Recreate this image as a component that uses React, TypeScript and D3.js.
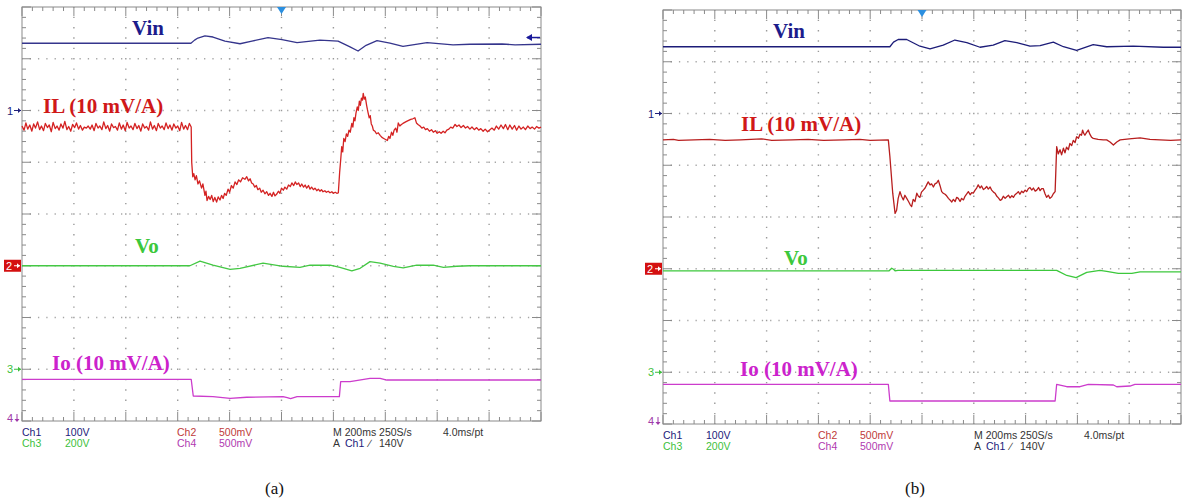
import React from 'react';
import * as d3 from 'd3';

type Pt = [number, number];

// time in ms (10 div x 200 ms), level in divisions (0 = bottom, 8 = top)
const vinA: Pt[] = [
  [0, 7.3], [651, 7.3], [665, 7.36], [678, 7.4], [705, 7.44], [736, 7.42], [782, 7.34], [840, 7.29], [886, 7.34],
  [948, 7.41], [1002, 7.37], [1060, 7.31], [1148, 7.36], [1218, 7.34], [1264, 7.23], [1295, 7.15],
  [1326, 7.26], [1368, 7.35], [1418, 7.3], [1468, 7.24], [1561, 7.31], [1661, 7.27], [1726, 7.28],
  [1850, 7.285], [1900, 7.27], [2000, 7.28],
];

const ilA: Pt[] = [
  [0, 5.7], [8, 5.62], [15, 5.76], [22, 5.64], [30, 5.72], [38, 5.6], [45, 5.74], [52, 5.66], [60, 5.78],
  [68, 5.63], [75, 5.7], [83, 5.61], [90, 5.75], [98, 5.67], [105, 5.72], [113, 5.59], [120, 5.77],
  [128, 5.65], [135, 5.7], [143, 5.62], [150, 5.74], [158, 5.66], [165, 5.79], [173, 5.63], [180, 5.69],
  [188, 5.6], [195, 5.73], [203, 5.67], [210, 5.76], [218, 5.64], [225, 5.71], [233, 5.62], [240, 5.68],
  [248, 5.66], [255, 5.7], [263, 5.64], [270, 5.72], [278, 5.61], [285, 5.75], [293, 5.66], [300, 5.7],
  [308, 5.63], [315, 5.78], [323, 5.65], [330, 5.71], [338, 5.6], [345, 5.74], [353, 5.67], [360, 5.69],
  [368, 5.62], [375, 5.76], [383, 5.64], [390, 5.72], [398, 5.61], [405, 5.77], [413, 5.66], [420, 5.7],
  [428, 5.63], [435, 5.75], [443, 5.65], [450, 5.71], [458, 5.6], [465, 5.74], [473, 5.66], [480, 5.69],
  [488, 5.62], [495, 5.78], [503, 5.64], [510, 5.71], [518, 5.61], [525, 5.75], [533, 5.66], [540, 5.7],
  [548, 5.63], [555, 5.76], [563, 5.65], [570, 5.72], [578, 5.62], [585, 5.74], [593, 5.66], [600, 5.7],
  [608, 5.61], [615, 5.77], [623, 5.64], [630, 5.71], [638, 5.63], [645, 5.75], [652, 5.68],
  [654, 5.0], [658, 4.72], [662, 4.78], [667, 4.66], [672, 4.74], [678, 4.58], [684, 4.64], [692, 4.5],
  [697, 4.58], [705, 4.36], [709, 4.44], [713, 4.26], [719, 4.34], [725, 4.28], [731, 4.36], [737, 4.24],
  [743, 4.32], [750, 4.23], [756, 4.33], [763, 4.27], [769, 4.36], [775, 4.3], [781, 4.4], [787, 4.36],
  [794, 4.48], [800, 4.42], [807, 4.55], [814, 4.5], [821, 4.62], [828, 4.57], [835, 4.66], [842, 4.62],
  [850, 4.7], [859, 4.67], [866, 4.72], [873, 4.64], [879, 4.68], [885, 4.6], [891, 4.58], [897, 4.52],
  [903, 4.55], [909, 4.47], [916, 4.5], [922, 4.42], [929, 4.46], [936, 4.39], [943, 4.43], [950, 4.36],
  [956, 4.4], [963, 4.34], [969, 4.42], [975, 4.35], [981, 4.38], [988, 4.44], [994, 4.4], [1000, 4.5],
  [1007, 4.46], [1013, 4.52], [1020, 4.48], [1027, 4.56], [1034, 4.53], [1040, 4.6], [1047, 4.55],
  [1053, 4.62], [1059, 4.57], [1066, 4.6], [1072, 4.53], [1078, 4.58], [1085, 4.52], [1091, 4.56],
  [1097, 4.5], [1104, 4.55], [1110, 4.48], [1116, 4.52], [1123, 4.47], [1129, 4.5], [1136, 4.45],
  [1142, 4.48], [1148, 4.44], [1154, 4.47], [1160, 4.43], [1167, 4.45], [1173, 4.42], [1180, 4.44],
  [1187, 4.41], [1194, 4.43], [1200, 4.4], [1207, 4.42], [1213, 4.4], [1219, 4.41],
  [1224, 4.8], [1228, 5.04], [1232, 5.3], [1236, 5.2], [1240, 5.46], [1245, 5.4], [1250, 5.55],
  [1255, 5.5], [1260, 5.62], [1265, 5.58], [1271, 5.75], [1275, 5.68], [1279, 5.86], [1283, 5.8],
  [1287, 5.95], [1292, 6.07], [1296, 6.0], [1300, 6.18], [1304, 6.1], [1308, 6.24], [1312, 6.2],
  [1315, 6.33], [1319, 6.22], [1323, 6.26], [1328, 6.1], [1331, 6.02], [1334, 5.95], [1338, 5.86],
  [1342, 5.9], [1346, 5.74], [1350, 5.7], [1354, 5.62], [1360, 5.6], [1366, 5.55], [1373, 5.57],
  [1380, 5.52], [1387, 5.48], [1394, 5.46], [1401, 5.44], [1408, 5.42], [1413, 5.5], [1418, 5.46],
  [1424, 5.58], [1429, 5.52], [1434, 5.62], [1440, 5.66], [1445, 5.58], [1450, 5.76], [1456, 5.7],
  [1462, 5.73], [1468, 5.75], [1475, 5.77], [1482, 5.79], [1490, 5.81], [1498, 5.83], [1506, 5.84],
  [1514, 5.86], [1520, 5.76], [1526, 5.73], [1534, 5.7], [1541, 5.66], [1548, 5.68], [1555, 5.63],
  [1562, 5.65], [1570, 5.6], [1578, 5.63], [1585, 5.58], [1593, 5.61], [1600, 5.56], [1608, 5.59],
  [1615, 5.56], [1623, 5.6], [1630, 5.57], [1637, 5.62], [1645, 5.64], [1652, 5.68], [1660, 5.66],
  [1669, 5.73], [1676, 5.69], [1684, 5.72], [1692, 5.67], [1701, 5.71], [1709, 5.66], [1717, 5.69],
  [1726, 5.64], [1734, 5.68], [1743, 5.63], [1752, 5.67], [1760, 5.62], [1768, 5.65], [1777, 5.6],
  [1785, 5.64], [1794, 5.59], [1803, 5.63], [1811, 5.66], [1820, 5.62], [1828, 5.7], [1837, 5.64],
  [1846, 5.72], [1855, 5.65], [1863, 5.73], [1872, 5.63], [1880, 5.72], [1889, 5.64], [1898, 5.71],
  [1906, 5.62], [1915, 5.7], [1923, 5.64], [1932, 5.68], [1940, 5.63], [1949, 5.7], [1958, 5.65],
  [1966, 5.68], [1975, 5.64], [1983, 5.69], [1992, 5.66], [2000, 5.68],
];

const voA: Pt[] = [
  [0, 3.0], [647, 3.0], [686, 3.09], [736, 3.01], [802, 2.93], [840, 2.95], [929, 3.05], [1006, 2.99],
  [1071, 2.97], [1110, 3.01], [1187, 3.01], [1225, 2.97], [1271, 2.9], [1303, 2.95], [1341, 3.08],
  [1380, 3.05], [1431, 2.99], [1469, 2.96], [1521, 3.01], [1585, 3.01], [1624, 2.97], [1675, 2.99],
  [1726, 3.0], [2000, 3.0],
];

const ioA: Pt[] = [
  [0, 0.806], [652, 0.806], [660, 0.483], [736, 0.47], [802, 0.439], [866, 0.459], [1006, 0.47],
  [1022, 0.45], [1035, 0.431], [1060, 0.47], [1223, 0.47], [1228, 0.759], [1264, 0.759], [1341, 0.825],
  [1380, 0.825], [1406, 0.792], [2000, 0.792],
];

const vinB: Pt[] = [
  [0, 7.29], [876, 7.29], [890, 7.38], [908, 7.43], [941, 7.43], [992, 7.3], [1031, 7.25], [1082, 7.32], [1127, 7.42],
  [1173, 7.37], [1224, 7.28], [1275, 7.32], [1320, 7.41], [1366, 7.37], [1417, 7.3], [1456, 7.31],
  [1507, 7.38], [1546, 7.29], [1597, 7.22], [1661, 7.33], [1713, 7.29], [1816, 7.3], [1932, 7.28],
  [2000, 7.28],
];

const ilB: Pt[] = [
  [0, 5.49], [40, 5.5], [60, 5.48], [120, 5.49], [180, 5.5], [240, 5.48], [300, 5.49], [380, 5.51],
  [420, 5.48], [500, 5.49], [560, 5.5], [620, 5.48], [700, 5.49], [760, 5.5], [800, 5.48], [870, 5.49],
  [876, 5.17], [887, 4.46], [896, 4.07], [902, 4.13], [908, 4.36], [915, 4.49], [921, 4.4], [928, 4.33],
  [934, 4.42], [941, 4.36], [948, 4.3], [954, 4.24], [960, 4.2], [966, 4.34], [973, 4.3], [980, 4.46],
  [986, 4.4], [992, 4.38], [998, 4.48], [1005, 4.52], [1012, 4.56], [1018, 4.62], [1024, 4.68],
  [1031, 4.62], [1037, 4.64], [1044, 4.58], [1050, 4.64], [1057, 4.66], [1063, 4.71], [1070, 4.6],
  [1076, 4.49], [1082, 4.46], [1089, 4.44], [1095, 4.41], [1102, 4.36], [1108, 4.33], [1115, 4.29],
  [1121, 4.34], [1128, 4.3], [1134, 4.38], [1140, 4.36], [1147, 4.3], [1153, 4.36], [1160, 4.33],
  [1166, 4.4], [1172, 4.44], [1179, 4.49], [1186, 4.43], [1192, 4.47], [1198, 4.46], [1205, 4.52],
  [1211, 4.56], [1217, 4.62], [1224, 4.56], [1230, 4.6], [1237, 4.53], [1243, 4.55], [1250, 4.59],
  [1256, 4.54], [1263, 4.58], [1269, 4.52], [1276, 4.48], [1282, 4.46], [1289, 4.4], [1295, 4.37],
  [1302, 4.32], [1308, 4.34], [1314, 4.4], [1321, 4.36], [1327, 4.39], [1334, 4.42], [1340, 4.37],
  [1347, 4.41], [1353, 4.38], [1359, 4.43], [1366, 4.46], [1372, 4.49], [1378, 4.44], [1385, 4.5],
  [1391, 4.47], [1398, 4.52], [1404, 4.49], [1411, 4.55], [1417, 4.57], [1424, 4.52], [1430, 4.56],
  [1437, 4.5], [1443, 4.52], [1450, 4.57], [1456, 4.51], [1462, 4.55], [1468, 4.55], [1475, 4.45],
  [1481, 4.38], [1488, 4.42], [1494, 4.36], [1501, 4.39], [1507, 4.45], [1514, 4.49], [1520, 5.36],
  [1526, 5.22], [1533, 5.3], [1539, 5.2], [1546, 5.33], [1552, 5.24], [1558, 5.35], [1565, 5.3],
  [1571, 5.42], [1578, 5.38], [1584, 5.48], [1591, 5.44], [1597, 5.55], [1604, 5.52], [1610, 5.6],
  [1616, 5.58], [1620, 5.68], [1624, 5.62], [1629, 5.58], [1635, 5.63], [1642, 5.68], [1648, 5.6],
  [1655, 5.54], [1661, 5.52], [1680, 5.5], [1700, 5.49], [1713, 5.49], [1726, 5.45], [1739, 5.39],
  [1752, 5.45], [1765, 5.49], [1800, 5.51], [1842, 5.53], [1880, 5.5], [1919, 5.49], [1960, 5.48],
  [2000, 5.49],
];

const voB: Pt[] = [
  [0, 2.96], [873, 2.96], [883, 3.01], [890, 2.99], [896, 2.96], [907, 2.97], [1069, 2.97], [1200, 2.97],
  [1520, 2.97], [1559, 2.87], [1595, 2.83], [1636, 2.93], [1687, 2.97], [1713, 2.95], [1758, 2.91],
  [1810, 2.91], [1842, 2.94], [2000, 2.94],
];

const ioB: Pt[] = [
  [0, 0.767], [870, 0.767], [876, 0.444], [1514, 0.444], [1520, 0.767], [1559, 0.72], [1610, 0.72],
  [1642, 0.767], [1739, 0.754], [1752, 0.72], [1803, 0.734], [1822, 0.767], [2000, 0.767],
];

const readoutRows = [
  [
    { text: 'Ch1', dx: 0, color: '#20207a' },
    { text: '100V', dx: 43, color: '#20207a' },
    { text: 'Ch2', dx: 155, color: '#c03a3a' },
    { text: '500mV', dx: 197, color: '#c03a3a' },
    { text: 'M 200ms 250S/s', dx: 311, color: '#333' },
    { text: '4.0ms/pt', dx: 421, color: '#333' },
  ],
  [
    { text: 'Ch3', dx: 0, color: '#3cbf3c' },
    { text: '200V', dx: 43, color: '#3cbf3c' },
    { text: 'Ch4', dx: 155, color: '#b03ab0' },
    { text: '500mV', dx: 197, color: '#b03ab0' },
    { text: 'A', dx: 311, color: '#333' },
    { text: 'Ch1', dx: 323, color: '#20207a' },
    { text: '\u2215', dx: 347, color: '#333' },
    { text: '140V', dx: 357, color: '#333' },
  ],
];

interface TraceDef { data: Pt[]; color: string; }
interface LabelDef { text: string; x: number; y: number; color: string; }

interface ScopeProps {
  x0: number; y0: number; w: number; h: number;
  traces: TraceDef[];
  labels: LabelDef[];
  levelArrow?: number;
  caption: string;
}

const Scope: React.FC<ScopeProps> = ({ x0, y0, w, h, traces, labels, levelArrow, caption }) => {
  const x = d3.scaleLinear().domain([0, 2000]).range([x0, x0 + w]);
  const y = d3.scaleLinear().domain([0, 8]).range([y0 + h, y0]);
  const line = d3.line<Pt>().x(d => x(d[0])).y(d => y(d[1]));
  const xt = d3.range(0, 51);
  const yt = d3.range(0, 41);
  const dx = w / 50;
  const dy = h / 40;

  return (
    <g>
      {/* dotted grid */}
      {d3.range(1, 10).map(i => (
        <line key={'v' + i} x1={x(i * 200)} x2={x(i * 200)} y1={y0} y2={y0 + h}
          stroke="#9a9a9a" strokeWidth={1.4} strokeDasharray={`1.4 ${dy - 1.4}`} strokeDashoffset={0.7} />
      ))}
      {d3.range(1, 8).map(j => (
        <line key={'h' + j} x1={x0} x2={x0 + w} y1={y(j)} y2={y(j)}
          stroke="#a6a6a6" strokeWidth={1.3} strokeDasharray={`1.3 ${dx * 0.8 - 1.3}`} strokeDashoffset={0.65} />
      ))}
      {/* frame */}
      <rect x={x0} y={y0} width={w} height={h} fill="none" stroke="#8a8a8a" strokeWidth={1} />
      {xt.map(i => {
        const len = i % 5 === 0 ? 9 : 4;
        const px = x0 + i * dx;
        return (
          <g key={'xt' + i}>
            <line x1={px} x2={px} y1={y0} y2={y0 + len} stroke="#8a8a8a" />
            <line x1={px} x2={px} y1={y0 + h} y2={y0 + h - len} stroke="#8a8a8a" />
          </g>
        );
      })}
      {yt.map(j => {
        const len = j % 5 === 0 ? 9 : 4;
        const py = y0 + j * dy;
        return (
          <g key={'yt' + j}>
            <line x1={x0} x2={x0 + len} y1={py} y2={py} stroke="#8a8a8a" />
            <line x1={x0 + w} x2={x0 + w - len} y1={py} y2={py} stroke="#8a8a8a" />
          </g>
        );
      })}

      {/* traces */}
      {traces.map((t, i) => (
        <path key={'tr' + i} d={line(t.data) || ''} fill="none" stroke={t.color} strokeWidth={1.3} strokeLinejoin="round" />
      ))}

      {/* trace labels */}
      {labels.map((l, i) => (
        <text key={'lb' + i} x={l.x} y={l.y} fill={l.color} fontFamily="'Liberation Serif', 'Times New Roman', serif"
          fontWeight="bold" fontSize={21}>{l.text}</text>
      ))}

      {/* trigger position */}
      <path d={`M${x(1000) - 4.5},${y0} L${x(1000) + 4.5},${y0} L${x(1000)},${y0 + 7} Z`} fill="#2b8fe0" />
      {levelArrow !== undefined && (
        <g>
          <line x1={x0 + w - 14} x2={x0 + w - 1} y1={y(levelArrow)} y2={y(levelArrow)} stroke="#1a1a9a" strokeWidth={1.5} />
          <path d={`M${x0 + w - 15},${y(levelArrow)} l6,-3.5 l0,7 Z`} fill="#1a1a9a" />
        </g>
      )}

      {/* channel ground markers */}
      <g fontFamily="'Liberation Sans', Arial, sans-serif" fontSize={11}>
        <text x={x0 - 15} y={y(6) + 4} fill="#20207a">1</text>
        <line x1={x0 - 8} x2={x0 - 1} y1={y(6)} y2={y(6)} stroke="#20207a" />
        <path d={`M${x0 - 1},${y(6)} l-3,-2.5 l0,5 Z`} fill="#20207a" />

        <rect x={x0 - 18} y={y(3) - 6} width={17} height={12} fill="#d41010" />
        <text x={x0 - 16} y={y(3) + 4} fill="#fff">2</text>
        <line x1={x0 - 8} x2={x0 - 2} y1={y(3)} y2={y(3)} stroke="#fff" />
        <path d={`M${x0 - 2},${y(3)} l-3,-2.5 l0,5 Z`} fill="#fff" />

        <text x={x0 - 15} y={y(1) + 4} fill="#3cbf3c">3</text>
        <line x1={x0 - 8} x2={x0 - 1} y1={y(1)} y2={y(1)} stroke="#3cbf3c" />
        <path d={`M${x0 - 1},${y(1)} l-3,-2.5 l0,5 Z`} fill="#3cbf3c" />

        <text x={x0 - 15} y={y(0) + 1} fill="#a03aa8">4</text>
        <line x1={x0 - 5} x2={x0 - 5} y1={y(0) - 7} y2={y(0)} stroke="#a03aa8" />
        <path d={`M${x0 - 5},${y(0) + 1} l-2.5,-3 l5,0 Z`} fill="#a03aa8" />
      </g>

      {/* readouts */}
      <g fontFamily="'Liberation Sans', Arial, sans-serif" fontSize={10.5}>
        {readoutRows.map((row, r) => row.map((c, k) => (
          <text key={`ro${r}-${k}`} x={x0 + c.dx} y={y0 + h + 15 + r * 11} fill={c.color}>{c.text}</text>
        )))}
      </g>

      <text x={x0 + w / 2 - 7} y={494} textAnchor="middle" fontFamily="'Liberation Serif', 'Times New Roman', serif"
        fontSize={17} fill="#111">{caption}</text>
    </g>
  );
};

const App: React.FC = () => {
  return (
    <svg width={1184} height={499} style={{ position: 'absolute', left: 0, top: 0, background: '#fff' }}>
      <Scope
        x0={22} y0={7} w={519} h={414}
        caption="(a)"
        levelArrow={7.41}
        traces={[
          { data: vinA, color: '#35358c' },
          { data: ilA, color: '#d42222' },
          { data: voA, color: '#44c844' },
          { data: ioA, color: '#cc3ccc' },
        ]}
        labels={[
          { text: 'Vin', x: 132, y: 35, color: '#1c1c8c' },
          { text: 'IL (10 mV/A)', x: 43, y: 113, color: '#d01818' },
          { text: 'Vo', x: 135, y: 253, color: '#3cc83c' },
          { text: 'Io (10 mV/A)', x: 52, y: 370, color: '#cc22cc' },
        ]}
      />
      <Scope
        x0={663} y0={10} w={518} h={414}
        caption="(b)"
        traces={[
          { data: vinB, color: '#1c1c78' },
          { data: ilB, color: '#b81e1e' },
          { data: voB, color: '#3cc83c' },
          { data: ioB, color: '#cc3ccc' },
        ]}
        labels={[
          { text: 'Vin', x: 773, y: 38, color: '#1c1c8c' },
          { text: 'IL (10 mV/A)', x: 741, y: 131, color: '#d01818' },
          { text: 'Vo', x: 784, y: 265, color: '#3cc83c' },
          { text: 'Io (10 mV/A)', x: 740, y: 376, color: '#cc22cc' },
        ]}
      />
    </svg>
  );
};

export default App;
